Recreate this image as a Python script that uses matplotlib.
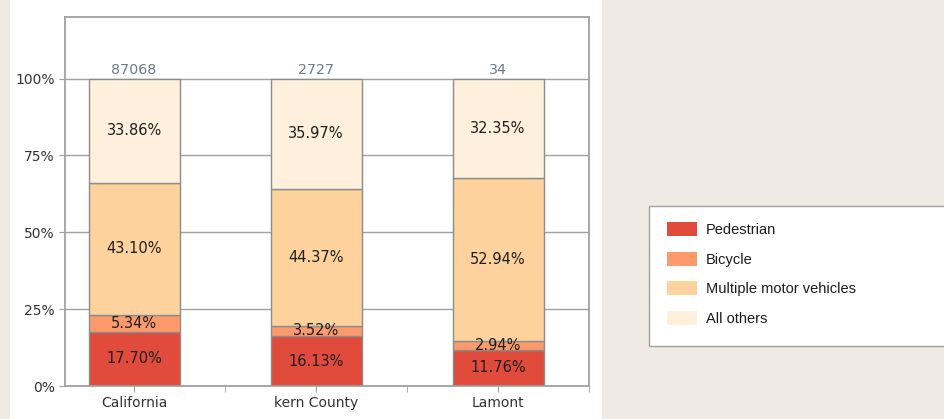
import matplotlib
matplotlib.use('Agg')
import matplotlib.pyplot as plt
import matplotlib.patches as mpatches
from matplotlib.ticker import FuncFormatter, FixedLocator
import numpy as np

# data
places = ['California', 'kern County', 'Lamont']
totals = [87068, 2727, 34]
categories = ['Pedestrian', 'Bicycle', 'Multiple motor vehicles', 'All others']
pedestrian = [17.70, 16.13, 11.76]
bicycle = [5.34, 3.52, 2.94]
multi_vehicle = [43.10, 44.37, 52.94]
all_others = [33.86, 35.97, 32.35]

colors = ['#e04b3b', '#fc9a6c', '#fdd29c', '#fef0dc']
series = [pedestrian, bicycle, multi_vehicle, all_others]

fig = plt.figure(figsize=(9.44, 4.19), dpi=100)
fig.set_facecolor('#efebe4')

# white panel behind the chart
fig.patches.append(mpatches.Rectangle((10/944, 0), 592/944, 1, transform=fig.transFigure,
                                      facecolor='white', edgecolor='none', zorder=-10))

ax = fig.add_axes([65/944, 33/419, 524/944, 369/419])
ax.set_facecolor('white')
ax.set_axisbelow(True)

x = np.arange(len(places))
bottom = np.zeros(len(places))
for vals, col in zip(series, colors):
    vals = np.array(vals) / 100.
    ax.bar(x, vals, 0.5, bottom=bottom, color=col, edgecolor='#8c8c8c', linewidth=1, zorder=2)
    for xi, b, v in zip(x, bottom, vals):
        ax.text(xi, b + v / 2, '%.2f%%' % (v * 100), ha='center', va='center',
                fontsize=10.5, color='#1f1f1f', zorder=3)
    bottom = bottom + vals

for xi, t in zip(x, totals):
    ax.text(xi, 1.005, str(t), ha='center', va='bottom', fontsize=10.3, color='#6b7a8a')

ax.set_ylim(0, 1.2)
ax.set_xlim(-0.38, 2.5)
ax.yaxis.set_major_locator(FixedLocator([0, 0.25, 0.5, 0.75, 1.0]))
ax.yaxis.set_major_formatter(FuncFormatter(lambda v, p: '%d%%' % round(v * 100)))
ax.set_xticks(x)
ax.set_xticklabels(places)
ax.set_xticks([0.5, 1.5, 2.5], minor=True)
ax.tick_params(axis='both', which='both', length=4, color='#a0a0a0', labelsize=10, labelcolor='#333333')
ax.grid(axis='y', color='#a0a0a0', linewidth=1)

for sp in ax.spines.values():
    sp.set_color('#a0a0a0')
    sp.set_linewidth(1.3)

# legend box
fig.patches.append(mpatches.Rectangle((649/944, 73/419), 300/944, 140/419, transform=fig.transFigure,
                                      facecolor='white', edgecolor='#a0a0a0', linewidth=1, zorder=-5))
handles = [mpatches.Patch(facecolor=c, edgecolor='none') for c in colors]
leg = fig.legend(handles, categories, loc='upper left', bbox_to_anchor=(667/944, 1 - 222/419),
                 frameon=False, borderpad=0, borderaxespad=0, handlelength=2.05, handleheight=1.1,
                 handletextpad=0.62, labelspacing=1.0,
                 prop={'family': 'Liberation Sans', 'size': 10.5})
for t in leg.get_texts():
    t.set_color('#1a1a1a')

fig.savefig('out.png', dpi=100, facecolor=fig.get_facecolor())
